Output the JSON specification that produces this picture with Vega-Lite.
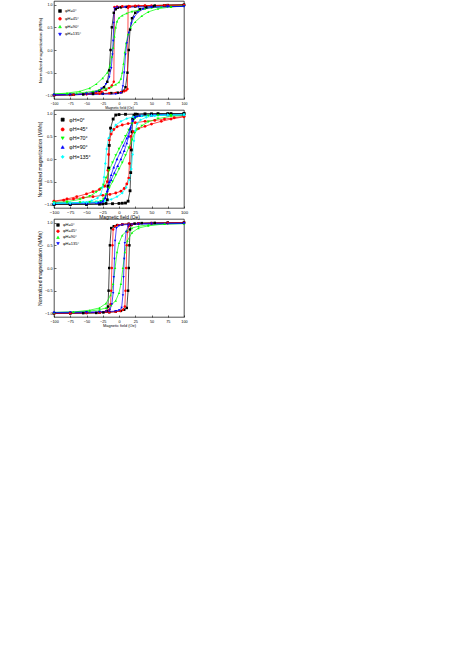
{
"$schema": "https://vega.github.io/schema/vega-lite/v6.json",
"padding": {"left": 36, "top": 0, "right": 5, "bottom": 5},
"config": {
  "font": "Liberation Sans",
  "view": {"stroke": "#000", "strokeWidth": 0.7},
  "axis": {"grid": false, "domain": false, "tickColor": "#000", "tickSize": -2, "tickWidth": 0.6, "labelColor": "#000", "titleColor": "#000", "titleFontWeight": "normal", "labelPadding": 4, "labelFlush": false, "labelOverlap": false},
  "legend": {"orient": "none", "labelColor": "#000", "padding": 0, "symbolSize": 8, "symbolStrokeWidth": 0.6, "labelLimit": 100}
},
"datasets": {
"a": [
{"phi":"φH=0°","b":"d","H":100,"M":0.995},{"phi":"φH=0°","b":"d","H":75,"M":0.99},{"phi":"φH=0°","b":"d","H":55,"M":0.98},{"phi":"φH=0°","b":"d","H":40,"M":0.97},{"phi":"φH=0°","b":"d","H":25,"M":0.96},{"phi":"φH=0°","b":"d","H":12,"M":0.95},{"phi":"φH=0°","b":"d","H":3,"M":0.94},{"phi":"φH=0°","b":"d","H":-2,"M":0.93},{"phi":"φH=0°","b":"d","H":-5,"M":0.9},{"phi":"φH=0°","b":"d","H":-8,"M":0.82},{"phi":"φH=0°","b":"d","H":-11,"M":0.5},{"phi":"φH=0°","b":"d","H":-13,"M":0.0},{"phi":"φH=0°","b":"d","H":-15,"M":-0.45},{"phi":"φH=0°","b":"d","H":-18,"M":-0.7},{"phi":"φH=0°","b":"d","H":-23,"M":-0.82},{"phi":"φH=0°","b":"d","H":-30,"M":-0.9},{"phi":"φH=0°","b":"d","H":-40,"M":-0.94},{"phi":"φH=0°","b":"d","H":-50,"M":-0.965},{"phi":"φH=0°","b":"d","H":-70,"M":-0.985},{"phi":"φH=0°","b":"d","H":-100,"M":-0.995},
{"phi":"φH=0°","b":"u","H":-100,"M":-0.995},{"phi":"φH=0°","b":"u","H":-75,"M":-0.99},{"phi":"φH=0°","b":"u","H":-55,"M":-0.98},{"phi":"φH=0°","b":"u","H":-40,"M":-0.97},{"phi":"φH=0°","b":"u","H":-25,"M":-0.96},{"phi":"φH=0°","b":"u","H":-12,"M":-0.95},{"phi":"φH=0°","b":"u","H":-2,"M":-0.94},{"phi":"φH=0°","b":"u","H":4,"M":-0.93},{"phi":"φH=0°","b":"u","H":7,"M":-0.9},{"phi":"φH=0°","b":"u","H":10,"M":-0.82},{"phi":"φH=0°","b":"u","H":13,"M":-0.5},{"phi":"φH=0°","b":"u","H":15,"M":0.0},{"phi":"φH=0°","b":"u","H":17,"M":0.45},{"phi":"φH=0°","b":"u","H":20,"M":0.7},{"phi":"φH=0°","b":"u","H":25,"M":0.82},{"phi":"φH=0°","b":"u","H":32,"M":0.9},{"phi":"φH=0°","b":"u","H":42,"M":0.94},{"phi":"φH=0°","b":"u","H":52,"M":0.965},{"phi":"φH=0°","b":"u","H":70,"M":0.985},{"phi":"φH=0°","b":"u","H":100,"M":0.995},
{"phi":"φH=45°","b":"d","H":100,"M":0.985},{"phi":"φH=45°","b":"d","H":75,"M":0.985},{"phi":"φH=45°","b":"d","H":50,"M":0.98},{"phi":"φH=45°","b":"d","H":30,"M":0.975},{"phi":"φH=45°","b":"d","H":15,"M":0.97},{"phi":"φH=45°","b":"d","H":5,"M":0.965},{"phi":"φH=45°","b":"d","H":-3,"M":0.96},{"phi":"φH=45°","b":"d","H":-7,"M":0.95},{"phi":"φH=45°","b":"d","H":-8,"M":-0.7},{"phi":"φH=45°","b":"d","H":-11,"M":-0.78},{"phi":"φH=45°","b":"d","H":-15,"M":-0.84},{"phi":"φH=45°","b":"d","H":-20,"M":-0.88},{"phi":"φH=45°","b":"d","H":-27,"M":-0.92},{"phi":"φH=45°","b":"d","H":-35,"M":-0.95},{"phi":"φH=45°","b":"d","H":-50,"M":-0.97},{"phi":"φH=45°","b":"d","H":-70,"M":-0.985},{"phi":"φH=45°","b":"d","H":-100,"M":-0.99},
{"phi":"φH=45°","b":"u","H":-100,"M":-0.99},{"phi":"φH=45°","b":"u","H":-75,"M":-0.985},{"phi":"φH=45°","b":"u","H":-50,"M":-0.975},{"phi":"φH=45°","b":"u","H":-30,"M":-0.965},{"phi":"φH=45°","b":"u","H":-15,"M":-0.955},{"phi":"φH=45°","b":"u","H":-5,"M":-0.945},{"phi":"φH=45°","b":"u","H":3,"M":-0.93},{"phi":"φH=45°","b":"u","H":8,"M":-0.91},{"phi":"φH=45°","b":"u","H":11,"M":-0.89},{"phi":"φH=45°","b":"u","H":13,"M":-0.86},{"phi":"φH=45°","b":"u","H":14,"M":0.93},{"phi":"φH=45°","b":"u","H":17,"M":0.96},{"phi":"φH=45°","b":"u","H":25,"M":0.975},{"phi":"φH=45°","b":"u","H":40,"M":0.98},{"phi":"φH=45°","b":"u","H":70,"M":0.985},{"phi":"φH=45°","b":"u","H":100,"M":0.99},
{"phi":"φH=90°","b":"d","H":100,"M":0.97},{"phi":"φH=90°","b":"d","H":80,"M":0.96},{"phi":"φH=90°","b":"d","H":65,"M":0.95},{"phi":"φH=90°","b":"d","H":50,"M":0.93},{"phi":"φH=90°","b":"d","H":40,"M":0.91},{"phi":"φH=90°","b":"d","H":30,"M":0.88},{"phi":"φH=90°","b":"d","H":20,"M":0.85},{"phi":"φH=90°","b":"d","H":12,"M":0.81},{"phi":"φH=90°","b":"d","H":5,"M":0.76},{"phi":"φH=90°","b":"d","H":0,"M":0.71},{"phi":"φH=90°","b":"d","H":-3,"M":0.63},{"phi":"φH=90°","b":"d","H":-5,"M":0.5},{"phi":"φH=90°","b":"d","H":-7,"M":0.3},{"phi":"φH=90°","b":"d","H":-9,"M":0.05},{"phi":"φH=90°","b":"d","H":-11,"M":-0.15},{"phi":"φH=90°","b":"d","H":-14,"M":-0.35},{"phi":"φH=90°","b":"d","H":-18,"M":-0.5},{"phi":"φH=90°","b":"d","H":-25,"M":-0.62},{"phi":"φH=90°","b":"d","H":-35,"M":-0.75},{"phi":"φH=90°","b":"d","H":-45,"M":-0.84},{"phi":"φH=90°","b":"d","H":-60,"M":-0.91},{"phi":"φH=90°","b":"d","H":-80,"M":-0.95},{"phi":"φH=90°","b":"d","H":-100,"M":-0.97},
{"phi":"φH=90°","b":"u","H":-100,"M":-0.97},{"phi":"φH=90°","b":"u","H":-80,"M":-0.96},{"phi":"φH=90°","b":"u","H":-65,"M":-0.95},{"phi":"φH=90°","b":"u","H":-50,"M":-0.93},{"phi":"φH=90°","b":"u","H":-40,"M":-0.91},{"phi":"φH=90°","b":"u","H":-30,"M":-0.88},{"phi":"φH=90°","b":"u","H":-20,"M":-0.85},{"phi":"φH=90°","b":"u","H":-12,"M":-0.81},{"phi":"φH=90°","b":"u","H":-5,"M":-0.76},{"phi":"φH=90°","b":"u","H":0,"M":-0.71},{"phi":"φH=90°","b":"u","H":3,"M":-0.63},{"phi":"φH=90°","b":"u","H":5,"M":-0.5},{"phi":"φH=90°","b":"u","H":7,"M":-0.3},{"phi":"φH=90°","b":"u","H":9,"M":-0.05},{"phi":"φH=90°","b":"u","H":11,"M":0.15},{"phi":"φH=90°","b":"u","H":14,"M":0.35},{"phi":"φH=90°","b":"u","H":18,"M":0.5},{"phi":"φH=90°","b":"u","H":25,"M":0.62},{"phi":"φH=90°","b":"u","H":35,"M":0.75},{"phi":"φH=90°","b":"u","H":45,"M":0.84},{"phi":"φH=90°","b":"u","H":60,"M":0.91},{"phi":"φH=90°","b":"u","H":80,"M":0.95},{"phi":"φH=90°","b":"u","H":100,"M":0.97},
{"phi":"φH=135°","b":"d","H":100,"M":0.96},{"phi":"φH=135°","b":"d","H":75,"M":0.955},{"phi":"φH=135°","b":"d","H":50,"M":0.95},{"phi":"φH=135°","b":"d","H":30,"M":0.95},{"phi":"φH=135°","b":"d","H":10,"M":0.945},{"phi":"φH=135°","b":"d","H":-3,"M":0.94},{"phi":"φH=135°","b":"d","H":-7,"M":0.92},{"phi":"φH=135°","b":"d","H":-8,"M":0.6},{"phi":"φH=135°","b":"d","H":-9,"M":0.2},{"phi":"φH=135°","b":"d","H":-10,"M":-0.1},{"phi":"φH=135°","b":"d","H":-12,"M":-0.4},{"phi":"φH=135°","b":"d","H":-15,"M":-0.6},{"phi":"φH=135°","b":"d","H":-20,"M":-0.75},{"phi":"φH=135°","b":"d","H":-27,"M":-0.85},{"phi":"φH=135°","b":"d","H":-35,"M":-0.92},{"phi":"φH=135°","b":"d","H":-50,"M":-0.96},{"phi":"φH=135°","b":"d","H":-75,"M":-0.98},{"phi":"φH=135°","b":"d","H":-100,"M":-0.99},
{"phi":"φH=135°","b":"u","H":-100,"M":-0.99},{"phi":"φH=135°","b":"u","H":-75,"M":-0.985},{"phi":"φH=135°","b":"u","H":-50,"M":-0.98},{"phi":"φH=135°","b":"u","H":-25,"M":-0.975},{"phi":"φH=135°","b":"u","H":-5,"M":-0.97},{"phi":"φH=135°","b":"u","H":3,"M":-0.95},{"phi":"φH=135°","b":"u","H":6,"M":-0.8},{"phi":"φH=135°","b":"u","H":8,"M":-0.5},{"phi":"φH=135°","b":"u","H":10,"M":-0.1},{"phi":"φH=135°","b":"u","H":12,"M":0.15},{"phi":"φH=135°","b":"u","H":15,"M":0.38},{"phi":"φH=135°","b":"u","H":19,"M":0.58},{"phi":"φH=135°","b":"u","H":23,"M":0.72},{"phi":"φH=135°","b":"u","H":29,"M":0.83},{"phi":"φH=135°","b":"u","H":37,"M":0.9},{"phi":"φH=135°","b":"u","H":50,"M":0.94},{"phi":"φH=135°","b":"u","H":75,"M":0.955},{"phi":"φH=135°","b":"u","H":100,"M":0.96}
],
"b": [
{"phi":"φH=0°","b":"d","H":100,"M":1.0},{"phi":"φH=0°","b":"d","H":75,"M":1.0},{"phi":"φH=0°","b":"d","H":50,"M":0.995},{"phi":"φH=0°","b":"d","H":25,"M":0.99},{"phi":"φH=0°","b":"d","H":10,"M":0.985},{"phi":"φH=0°","b":"d","H":0,"M":0.98},{"phi":"φH=0°","b":"d","H":-5,"M":0.97},{"phi":"φH=0°","b":"d","H":-9,"M":0.88},{"phi":"φH=0°","b":"d","H":-13,"M":0.68},{"phi":"φH=0°","b":"d","H":-15,"M":0.3},{"phi":"φH=0°","b":"d","H":-16,"M":-0.2},{"phi":"φH=0°","b":"d","H":-17,"M":-0.6},{"phi":"φH=0°","b":"d","H":-18,"M":-0.9},{"phi":"φH=0°","b":"d","H":-20,"M":-0.98},{"phi":"φH=0°","b":"d","H":-30,"M":-0.995},{"phi":"φH=0°","b":"d","H":-50,"M":-1.0},{"phi":"φH=0°","b":"d","H":-75,"M":-1.0},{"phi":"φH=0°","b":"d","H":-100,"M":-1.0},
{"phi":"φH=0°","b":"u","H":-100,"M":-1.0},{"phi":"φH=0°","b":"u","H":-75,"M":-1.0},{"phi":"φH=0°","b":"u","H":-50,"M":-0.995},{"phi":"φH=0°","b":"u","H":-25,"M":-0.99},{"phi":"φH=0°","b":"u","H":-10,"M":-0.985},{"phi":"φH=0°","b":"u","H":0,"M":-0.98},{"phi":"φH=0°","b":"u","H":5,"M":-0.975},{"phi":"φH=0°","b":"u","H":10,"M":-0.97},{"phi":"φH=0°","b":"u","H":14,"M":-0.93},{"phi":"φH=0°","b":"u","H":17,"M":-0.7},{"phi":"φH=0°","b":"u","H":18,"M":-0.3},{"phi":"φH=0°","b":"u","H":19,"M":0.2},{"phi":"φH=0°","b":"u","H":20,"M":0.6},{"phi":"φH=0°","b":"u","H":21,"M":0.88},{"phi":"φH=0°","b":"u","H":23,"M":0.96},{"phi":"φH=0°","b":"u","H":28,"M":0.985},{"phi":"φH=0°","b":"u","H":40,"M":0.995},{"phi":"φH=0°","b":"u","H":60,"M":1.0},{"phi":"φH=0°","b":"u","H":80,"M":1.0},{"phi":"φH=0°","b":"u","H":100,"M":1.0},
{"phi":"φH=45°","b":"d","H":100,"M":0.94},{"phi":"φH=45°","b":"d","H":85,"M":0.91},{"phi":"φH=45°","b":"d","H":70,"M":0.88},{"phi":"φH=45°","b":"d","H":55,"M":0.85},{"phi":"φH=45°","b":"d","H":40,"M":0.83},{"phi":"φH=45°","b":"d","H":25,"M":0.8},{"phi":"φH=45°","b":"d","H":14,"M":0.78},{"phi":"φH=45°","b":"d","H":5,"M":0.75},{"phi":"φH=45°","b":"d","H":-3,"M":0.71},{"phi":"φH=45°","b":"d","H":-8,"M":0.65},{"phi":"φH=45°","b":"d","H":-12,"M":0.55},{"phi":"φH=45°","b":"d","H":-15,"M":0.42},{"phi":"φH=45°","b":"d","H":-16,"M":0.1},{"phi":"φH=45°","b":"d","H":-17,"M":-0.25},{"phi":"φH=45°","b":"d","H":-18,"M":-0.5},{"phi":"φH=45°","b":"d","H":-22,"M":-0.6},{"phi":"φH=45°","b":"d","H":-30,"M":-0.67},{"phi":"φH=45°","b":"d","H":-40,"M":-0.72},{"phi":"φH=45°","b":"d","H":-50,"M":-0.77},{"phi":"φH=45°","b":"d","H":-65,"M":-0.83},{"phi":"φH=45°","b":"d","H":-80,"M":-0.88},{"phi":"φH=45°","b":"d","H":-100,"M":-0.93},
{"phi":"φH=45°","b":"u","H":-100,"M":-0.94},{"phi":"φH=45°","b":"u","H":-85,"M":-0.91},{"phi":"φH=45°","b":"u","H":-70,"M":-0.88},{"phi":"φH=45°","b":"u","H":-55,"M":-0.85},{"phi":"φH=45°","b":"u","H":-40,"M":-0.83},{"phi":"φH=45°","b":"u","H":-25,"M":-0.8},{"phi":"φH=45°","b":"u","H":-14,"M":-0.78},{"phi":"φH=45°","b":"u","H":-5,"M":-0.75},{"phi":"φH=45°","b":"u","H":3,"M":-0.71},{"phi":"φH=45°","b":"u","H":8,"M":-0.65},{"phi":"φH=45°","b":"u","H":12,"M":-0.55},{"phi":"φH=45°","b":"u","H":15,"M":-0.42},{"phi":"φH=45°","b":"u","H":16,"M":-0.1},{"phi":"φH=45°","b":"u","H":17,"M":0.25},{"phi":"φH=45°","b":"u","H":18,"M":0.5},{"phi":"φH=45°","b":"u","H":22,"M":0.6},{"phi":"φH=45°","b":"u","H":30,"M":0.67},{"phi":"φH=45°","b":"u","H":40,"M":0.72},{"phi":"φH=45°","b":"u","H":50,"M":0.77},{"phi":"φH=45°","b":"u","H":65,"M":0.83},{"phi":"φH=45°","b":"u","H":80,"M":0.88},{"phi":"φH=45°","b":"u","H":100,"M":0.93},
{"phi":"φH=70°","b":"d","H":100,"M":0.97},{"phi":"φH=70°","b":"d","H":80,"M":0.965},{"phi":"φH=70°","b":"d","H":60,"M":0.96},{"phi":"φH=70°","b":"d","H":45,"M":0.955},{"phi":"φH=70°","b":"d","H":35,"M":0.945},{"phi":"φH=70°","b":"d","H":28,"M":0.93},{"phi":"φH=70°","b":"d","H":24,"M":0.88},{"phi":"φH=70°","b":"d","H":20,"M":0.78},{"phi":"φH=70°","b":"d","H":15,"M":0.64},{"phi":"φH=70°","b":"d","H":10,"M":0.5},{"phi":"φH=70°","b":"d","H":5,"M":0.36},{"phi":"φH=70°","b":"d","H":0,"M":0.22},{"phi":"φH=70°","b":"d","H":-5,"M":0.08},{"phi":"φH=70°","b":"d","H":-10,"M":-0.08},{"phi":"φH=70°","b":"d","H":-15,"M":-0.25},{"phi":"φH=70°","b":"d","H":-20,"M":-0.42},{"phi":"φH=70°","b":"d","H":-24,"M":-0.57},{"phi":"φH=70°","b":"d","H":-28,"M":-0.65},{"phi":"φH=70°","b":"d","H":-35,"M":-0.73},{"phi":"φH=70°","b":"d","H":-45,"M":-0.82},{"phi":"φH=70°","b":"d","H":-60,"M":-0.89},{"phi":"φH=70°","b":"d","H":-80,"M":-0.94},{"phi":"φH=70°","b":"d","H":-100,"M":-0.96},
{"phi":"φH=70°","b":"u","H":-100,"M":-0.97},{"phi":"φH=70°","b":"u","H":-80,"M":-0.965},{"phi":"φH=70°","b":"u","H":-60,"M":-0.96},{"phi":"φH=70°","b":"u","H":-45,"M":-0.955},{"phi":"φH=70°","b":"u","H":-35,"M":-0.945},{"phi":"φH=70°","b":"u","H":-28,"M":-0.93},{"phi":"φH=70°","b":"u","H":-24,"M":-0.88},{"phi":"φH=70°","b":"u","H":-20,"M":-0.78},{"phi":"φH=70°","b":"u","H":-15,"M":-0.64},{"phi":"φH=70°","b":"u","H":-10,"M":-0.5},{"phi":"φH=70°","b":"u","H":-5,"M":-0.36},{"phi":"φH=70°","b":"u","H":0,"M":-0.22},{"phi":"φH=70°","b":"u","H":5,"M":-0.08},{"phi":"φH=70°","b":"u","H":10,"M":0.08},{"phi":"φH=70°","b":"u","H":15,"M":0.25},{"phi":"φH=70°","b":"u","H":20,"M":0.42},{"phi":"φH=70°","b":"u","H":24,"M":0.57},{"phi":"φH=70°","b":"u","H":28,"M":0.65},{"phi":"φH=70°","b":"u","H":35,"M":0.73},{"phi":"φH=70°","b":"u","H":45,"M":0.82},{"phi":"φH=70°","b":"u","H":60,"M":0.89},{"phi":"φH=70°","b":"u","H":80,"M":0.94},{"phi":"φH=70°","b":"u","H":100,"M":0.96},
{"phi":"φH=90°","b":"d","H":100,"M":0.975},{"phi":"φH=90°","b":"d","H":75,"M":0.97},{"phi":"φH=90°","b":"d","H":50,"M":0.965},{"phi":"φH=90°","b":"d","H":35,"M":0.96},{"phi":"φH=90°","b":"d","H":28,"M":0.95},{"phi":"φH=90°","b":"d","H":24,"M":0.92},{"phi":"φH=90°","b":"d","H":21,"M":0.85},{"phi":"φH=90°","b":"d","H":17,"M":0.66},{"phi":"φH=90°","b":"d","H":12,"M":0.46},{"phi":"φH=90°","b":"d","H":7,"M":0.3},{"phi":"φH=90°","b":"d","H":2,"M":0.15},{"phi":"φH=90°","b":"d","H":-3,"M":0.0},{"phi":"φH=90°","b":"d","H":-8,"M":-0.18},{"phi":"φH=90°","b":"d","H":-12,"M":-0.35},{"phi":"φH=90°","b":"d","H":-15,"M":-0.5},{"phi":"φH=90°","b":"d","H":-18,"M":-0.7},{"phi":"φH=90°","b":"d","H":-21,"M":-0.86},{"phi":"φH=90°","b":"d","H":-25,"M":-0.93},{"phi":"φH=90°","b":"d","H":-32,"M":-0.96},{"phi":"φH=90°","b":"d","H":-50,"M":-0.975},{"phi":"φH=90°","b":"d","H":-75,"M":-0.98},{"phi":"φH=90°","b":"d","H":-100,"M":-0.985},
{"phi":"φH=90°","b":"u","H":-100,"M":-0.975},{"phi":"φH=90°","b":"u","H":-75,"M":-0.97},{"phi":"φH=90°","b":"u","H":-50,"M":-0.965},{"phi":"φH=90°","b":"u","H":-35,"M":-0.96},{"phi":"φH=90°","b":"u","H":-28,"M":-0.95},{"phi":"φH=90°","b":"u","H":-24,"M":-0.92},{"phi":"φH=90°","b":"u","H":-21,"M":-0.85},{"phi":"φH=90°","b":"u","H":-17,"M":-0.66},{"phi":"φH=90°","b":"u","H":-12,"M":-0.46},{"phi":"φH=90°","b":"u","H":-7,"M":-0.3},{"phi":"φH=90°","b":"u","H":-2,"M":-0.15},{"phi":"φH=90°","b":"u","H":3,"M":0.0},{"phi":"φH=90°","b":"u","H":8,"M":0.18},{"phi":"φH=90°","b":"u","H":12,"M":0.35},{"phi":"φH=90°","b":"u","H":15,"M":0.5},{"phi":"φH=90°","b":"u","H":18,"M":0.7},{"phi":"φH=90°","b":"u","H":21,"M":0.86},{"phi":"φH=90°","b":"u","H":25,"M":0.93},{"phi":"φH=90°","b":"u","H":32,"M":0.96},{"phi":"φH=90°","b":"u","H":50,"M":0.975},{"phi":"φH=90°","b":"u","H":75,"M":0.98},{"phi":"φH=90°","b":"u","H":100,"M":0.985},
{"phi":"φH=135°","b":"d","H":100,"M":0.975},{"phi":"φH=135°","b":"d","H":75,"M":0.97},{"phi":"φH=135°","b":"d","H":50,"M":0.96},{"phi":"φH=135°","b":"d","H":35,"M":0.95},{"phi":"φH=135°","b":"d","H":22,"M":0.93},{"phi":"φH=135°","b":"d","H":12,"M":0.89},{"phi":"φH=135°","b":"d","H":3,"M":0.83},{"phi":"φH=135°","b":"d","H":-5,"M":0.75},{"phi":"φH=135°","b":"d","H":-11,"M":0.63},{"phi":"φH=135°","b":"d","H":-16,"M":0.46},{"phi":"φH=135°","b":"d","H":-19,"M":0.22},{"phi":"φH=135°","b":"d","H":-21,"M":-0.1},{"phi":"φH=135°","b":"d","H":-23,"M":-0.4},{"phi":"φH=135°","b":"d","H":-25,"M":-0.62},{"phi":"φH=135°","b":"d","H":-28,"M":-0.78},{"phi":"φH=135°","b":"d","H":-33,"M":-0.86},{"phi":"φH=135°","b":"d","H":-42,"M":-0.92},{"phi":"φH=135°","b":"d","H":-55,"M":-0.95},{"phi":"φH=135°","b":"d","H":-75,"M":-0.97},{"phi":"φH=135°","b":"d","H":-100,"M":-0.98},
{"phi":"φH=135°","b":"u","H":-100,"M":-0.975},{"phi":"φH=135°","b":"u","H":-75,"M":-0.97},{"phi":"φH=135°","b":"u","H":-50,"M":-0.96},{"phi":"φH=135°","b":"u","H":-35,"M":-0.95},{"phi":"φH=135°","b":"u","H":-22,"M":-0.93},{"phi":"φH=135°","b":"u","H":-12,"M":-0.89},{"phi":"φH=135°","b":"u","H":-3,"M":-0.83},{"phi":"φH=135°","b":"u","H":5,"M":-0.75},{"phi":"φH=135°","b":"u","H":11,"M":-0.63},{"phi":"φH=135°","b":"u","H":16,"M":-0.46},{"phi":"φH=135°","b":"u","H":19,"M":-0.22},{"phi":"φH=135°","b":"u","H":21,"M":0.1},{"phi":"φH=135°","b":"u","H":23,"M":0.4},{"phi":"φH=135°","b":"u","H":25,"M":0.62},{"phi":"φH=135°","b":"u","H":28,"M":0.78},{"phi":"φH=135°","b":"u","H":33,"M":0.86},{"phi":"φH=135°","b":"u","H":42,"M":0.92},{"phi":"φH=135°","b":"u","H":55,"M":0.95},{"phi":"φH=135°","b":"u","H":75,"M":0.97},{"phi":"φH=135°","b":"u","H":100,"M":0.98}
],
"c": [
{"phi":"φH=0°","b":"d","H":100,"M":1.0},{"phi":"φH=0°","b":"d","H":75,"M":0.995},{"phi":"φH=0°","b":"d","H":50,"M":0.99},{"phi":"φH=0°","b":"d","H":30,"M":0.985},{"phi":"φH=0°","b":"d","H":15,"M":0.975},{"phi":"φH=0°","b":"d","H":5,"M":0.96},{"phi":"φH=0°","b":"d","H":-3,"M":0.945},{"phi":"φH=0°","b":"d","H":-8,"M":0.92},{"phi":"φH=0°","b":"d","H":-12,"M":0.88},{"phi":"φH=0°","b":"d","H":-14,"M":0.5},{"phi":"φH=0°","b":"d","H":-15,"M":0.0},{"phi":"φH=0°","b":"d","H":-16,"M":-0.5},{"phi":"φH=0°","b":"d","H":-17,"M":-0.85},{"phi":"φH=0°","b":"d","H":-19,"M":-0.95},{"phi":"φH=0°","b":"d","H":-24,"M":-0.98},{"phi":"φH=0°","b":"d","H":-35,"M":-0.99},{"phi":"φH=0°","b":"d","H":-55,"M":-0.995},{"phi":"φH=0°","b":"d","H":-75,"M":-1.0},{"phi":"φH=0°","b":"d","H":-100,"M":-1.0},
{"phi":"φH=0°","b":"u","H":-100,"M":-1.0},{"phi":"φH=0°","b":"u","H":-75,"M":-0.995},{"phi":"φH=0°","b":"u","H":-50,"M":-0.99},{"phi":"φH=0°","b":"u","H":-30,"M":-0.985},{"phi":"φH=0°","b":"u","H":-15,"M":-0.975},{"phi":"φH=0°","b":"u","H":-5,"M":-0.96},{"phi":"φH=0°","b":"u","H":3,"M":-0.945},{"phi":"φH=0°","b":"u","H":8,"M":-0.92},{"phi":"φH=0°","b":"u","H":12,"M":-0.88},{"phi":"φH=0°","b":"u","H":14,"M":-0.5},{"phi":"φH=0°","b":"u","H":15,"M":0.0},{"phi":"φH=0°","b":"u","H":16,"M":0.5},{"phi":"φH=0°","b":"u","H":17,"M":0.85},{"phi":"φH=0°","b":"u","H":19,"M":0.95},{"phi":"φH=0°","b":"u","H":24,"M":0.98},{"phi":"φH=0°","b":"u","H":35,"M":0.99},{"phi":"φH=0°","b":"u","H":55,"M":0.995},{"phi":"φH=0°","b":"u","H":75,"M":1.0},{"phi":"φH=0°","b":"u","H":100,"M":1.0},
{"phi":"φH=45°","b":"d","H":100,"M":0.995},{"phi":"φH=45°","b":"d","H":75,"M":0.99},{"phi":"φH=45°","b":"d","H":50,"M":0.985},{"phi":"φH=45°","b":"d","H":30,"M":0.98},{"phi":"φH=45°","b":"d","H":15,"M":0.975},{"phi":"φH=45°","b":"d","H":5,"M":0.965},{"phi":"φH=45°","b":"d","H":-2,"M":0.95},{"phi":"φH=45°","b":"d","H":-6,"M":0.92},{"phi":"φH=45°","b":"d","H":-9,"M":0.85},{"phi":"φH=45°","b":"d","H":-10,"M":0.5},{"phi":"φH=45°","b":"d","H":-11,"M":0.0},{"phi":"φH=45°","b":"d","H":-12,"M":-0.5},{"phi":"φH=45°","b":"d","H":-13,"M":-0.8},{"phi":"φH=45°","b":"d","H":-15,"M":-0.92},{"phi":"φH=45°","b":"d","H":-20,"M":-0.96},{"phi":"φH=45°","b":"d","H":-30,"M":-0.98},{"phi":"φH=45°","b":"d","H":-50,"M":-0.99},{"phi":"φH=45°","b":"d","H":-75,"M":-0.995},{"phi":"φH=45°","b":"d","H":-100,"M":-1.0},
{"phi":"φH=45°","b":"u","H":-100,"M":-0.995},{"phi":"φH=45°","b":"u","H":-75,"M":-0.99},{"phi":"φH=45°","b":"u","H":-50,"M":-0.985},{"phi":"φH=45°","b":"u","H":-30,"M":-0.98},{"phi":"φH=45°","b":"u","H":-15,"M":-0.975},{"phi":"φH=45°","b":"u","H":-5,"M":-0.965},{"phi":"φH=45°","b":"u","H":2,"M":-0.95},{"phi":"φH=45°","b":"u","H":6,"M":-0.92},{"phi":"φH=45°","b":"u","H":9,"M":-0.85},{"phi":"φH=45°","b":"u","H":10,"M":-0.5},{"phi":"φH=45°","b":"u","H":11,"M":0.0},{"phi":"φH=45°","b":"u","H":12,"M":0.5},{"phi":"φH=45°","b":"u","H":13,"M":0.8},{"phi":"φH=45°","b":"u","H":15,"M":0.92},{"phi":"φH=45°","b":"u","H":20,"M":0.96},{"phi":"φH=45°","b":"u","H":30,"M":0.98},{"phi":"φH=45°","b":"u","H":50,"M":0.99},{"phi":"φH=45°","b":"u","H":75,"M":0.995},{"phi":"φH=45°","b":"u","H":100,"M":1.0},
{"phi":"φH=90°","b":"d","H":100,"M":0.98},{"phi":"φH=90°","b":"d","H":70,"M":0.97},{"phi":"φH=90°","b":"d","H":45,"M":0.95},{"phi":"φH=90°","b":"d","H":30,"M":0.92},{"phi":"φH=90°","b":"d","H":20,"M":0.88},{"phi":"φH=90°","b":"d","H":12,"M":0.82},{"phi":"φH=90°","b":"d","H":5,"M":0.72},{"phi":"φH=90°","b":"d","H":0,"M":0.55},{"phi":"φH=90°","b":"d","H":-3,"M":0.35},{"phi":"φH=90°","b":"d","H":-6,"M":0.0},{"phi":"φH=90°","b":"d","H":-9,"M":-0.35},{"phi":"φH=90°","b":"d","H":-13,"M":-0.6},{"phi":"φH=90°","b":"d","H":-20,"M":-0.78},{"phi":"φH=90°","b":"d","H":-30,"M":-0.88},{"phi":"φH=90°","b":"d","H":-45,"M":-0.93},{"phi":"φH=90°","b":"d","H":-70,"M":-0.97},{"phi":"φH=90°","b":"d","H":-100,"M":-0.98},
{"phi":"φH=90°","b":"u","H":-100,"M":-0.98},{"phi":"φH=90°","b":"u","H":-70,"M":-0.97},{"phi":"φH=90°","b":"u","H":-45,"M":-0.95},{"phi":"φH=90°","b":"u","H":-30,"M":-0.92},{"phi":"φH=90°","b":"u","H":-20,"M":-0.88},{"phi":"φH=90°","b":"u","H":-12,"M":-0.82},{"phi":"φH=90°","b":"u","H":-5,"M":-0.72},{"phi":"φH=90°","b":"u","H":0,"M":-0.55},{"phi":"φH=90°","b":"u","H":3,"M":-0.35},{"phi":"φH=90°","b":"u","H":6,"M":0.0},{"phi":"φH=90°","b":"u","H":9,"M":0.35},{"phi":"φH=90°","b":"u","H":13,"M":0.6},{"phi":"φH=90°","b":"u","H":20,"M":0.78},{"phi":"φH=90°","b":"u","H":30,"M":0.88},{"phi":"φH=90°","b":"u","H":45,"M":0.93},{"phi":"φH=90°","b":"u","H":70,"M":0.97},{"phi":"φH=90°","b":"u","H":100,"M":0.98},
{"phi":"φH=135°","b":"d","H":100,"M":0.98},{"phi":"φH=135°","b":"d","H":75,"M":0.975},{"phi":"φH=135°","b":"d","H":50,"M":0.97},{"phi":"φH=135°","b":"d","H":30,"M":0.965},{"phi":"φH=135°","b":"d","H":15,"M":0.96},{"phi":"φH=135°","b":"d","H":5,"M":0.95},{"phi":"φH=135°","b":"d","H":0,"M":0.93},{"phi":"φH=135°","b":"d","H":-4,"M":0.88},{"phi":"φH=135°","b":"d","H":-6,"M":0.6},{"phi":"φH=135°","b":"d","H":-7,"M":0.2},{"phi":"φH=135°","b":"d","H":-8,"M":-0.2},{"phi":"φH=135°","b":"d","H":-9,"M":-0.55},{"phi":"φH=135°","b":"d","H":-11,"M":-0.8},{"phi":"φH=135°","b":"d","H":-14,"M":-0.92},{"phi":"φH=135°","b":"d","H":-20,"M":-0.96},{"phi":"φH=135°","b":"d","H":-30,"M":-0.975},{"phi":"φH=135°","b":"d","H":-50,"M":-0.985},{"phi":"φH=135°","b":"d","H":-100,"M":-0.99},
{"phi":"φH=135°","b":"u","H":-100,"M":-0.98},{"phi":"φH=135°","b":"u","H":-75,"M":-0.975},{"phi":"φH=135°","b":"u","H":-50,"M":-0.97},{"phi":"φH=135°","b":"u","H":-30,"M":-0.965},{"phi":"φH=135°","b":"u","H":-15,"M":-0.96},{"phi":"φH=135°","b":"u","H":-5,"M":-0.95},{"phi":"φH=135°","b":"u","H":0,"M":-0.93},{"phi":"φH=135°","b":"u","H":4,"M":-0.88},{"phi":"φH=135°","b":"u","H":6,"M":-0.6},{"phi":"φH=135°","b":"u","H":7,"M":-0.2},{"phi":"φH=135°","b":"u","H":8,"M":0.2},{"phi":"φH=135°","b":"u","H":9,"M":0.55},{"phi":"φH=135°","b":"u","H":11,"M":0.8},{"phi":"φH=135°","b":"u","H":14,"M":0.92},{"phi":"φH=135°","b":"u","H":20,"M":0.96},{"phi":"φH=135°","b":"u","H":30,"M":0.975},{"phi":"φH=135°","b":"u","H":50,"M":0.985},{"phi":"φH=135°","b":"u","H":100,"M":0.99}
]
},
"vconcat": [
{
  "width": 130, "height": 98,
  "data": {"name": "a"},
  "encoding": {
    "x": {"field": "H", "type": "quantitative", "scale": {"domain": [-100, 100], "nice": false}, "axis": {"values": [-100,-75,-50,-25,0,25,50,75,100], "title": "Magnetic field (Oe)", "labelFontSize": 3.5, "titleFontSize": 3.4, "titlePadding": 0.5}},
    "y": {"field": "M", "type": "quantitative", "scale": {"domain": [-1.08, 1.08], "nice": false, "zero": false}, "axis": {"values": [-1,-0.5,0,0.5,1], "format": ".1f", "title": "Normalized magnetization (M/Ms)", "labelFontSize": 3.6, "titleFontSize": 4.4, "titlePadding": 2}}
  },
  "layer": [
    {"mark": {"type": "line", "strokeWidth": 0.7}, "encoding": {"detail": {"field": "b"}, "color": {"field": "phi", "type": "nominal", "scale": {"domain": ["φH=0°","φH=45°","φH=90°","φH=135°"], "range": ["#000000","#ff0000","#00ff00","#0000ff"]}, "legend": {"title": null, "legendX": 4, "legendY": 8, "labelFontSize": 4, "symbolSize": 8, "rowPadding": 1.8, "labelOffset": 3}}}},
    {"mark": {"type": "point", "filled": true, "size": 6, "opacity": 1}, "encoding": {
      "color": {"field": "phi", "type": "nominal", "scale": {"domain": ["φH=0°","φH=45°","φH=90°","φH=135°"], "range": ["#000000","#ff0000","#00ff00","#0000ff"]}, "legend": {"title": null, "legendX": 4, "legendY": 8, "labelFontSize": 4, "symbolSize": 8, "rowPadding": 1.8, "labelOffset": 3}},
      "shape": {"field": "phi", "type": "nominal", "scale": {"domain": ["φH=0°","φH=45°","φH=90°","φH=135°"], "range": ["square","circle","triangle-up","triangle-down"]}, "legend": {"title": null, "legendX": 4, "legendY": 8, "labelFontSize": 4, "symbolSize": 8, "rowPadding": 1.8, "labelOffset": 3}}
    }},
    {"data": {"values": [{}]}, "mark": {"type": "text", "fontSize": 5, "color": "#000"}, "encoding": {"x": {"datum": 68}, "y": {"datum": 0.5}, "text": {"value": "20 nm"}}},
    {"data": {"values": [{}]}, "mark": {"type": "text", "fontSize": 4.5, "color": "#000"}, "encoding": {"x": {"datum": 88}, "y": {"datum": -0.9}, "text": {"value": "(a)"}}}
  ]
},
{
  "width": 130, "height": 98,
  "data": {"name": "b"},
  "encoding": {
    "x": {"field": "H", "type": "quantitative", "scale": {"domain": [-100, 100], "nice": false}, "axis": {"values": [-100,-75,-50,-25,0,25,50,75,100], "title": "Magnetic field (Oe)", "labelFontSize": 4.3, "titleFontSize": 4.8, "titlePadding": 0}},
    "y": {"field": "M", "type": "quantitative", "scale": {"domain": [-1.08, 1.08], "nice": false, "zero": false}, "axis": {"values": [-1,-0.5,0,0.5,1], "format": ".1f", "title": "Normalized magnetization (M/Ms)", "labelFontSize": 4, "titleFontSize": 5.1, "titlePadding": 2}}
  },
  "layer": [
    {"mark": {"type": "line", "strokeWidth": 0.7}, "encoding": {"detail": {"field": "b"}, "color": {"field": "phi", "type": "nominal", "scale": {"domain": ["φH=0°","φH=45°","φH=70°","φH=90°","φH=135°"], "range": ["#000000","#ff0000","#00ff00","#0000ff","#00ffff"]}, "legend": {"title": null, "legendX": 6, "legendY": 7, "labelFontSize": 5.3, "symbolSize": 10, "rowPadding": 2.8, "labelOffset": 4}}}},
    {"mark": {"type": "point", "filled": true, "size": 8, "opacity": 1}, "encoding": {
      "color": {"field": "phi", "type": "nominal", "scale": {"domain": ["φH=0°","φH=45°","φH=70°","φH=90°","φH=135°"], "range": ["#000000","#ff0000","#00ff00","#0000ff","#00ffff"]}, "legend": {"title": null, "legendX": 6, "legendY": 7, "labelFontSize": 5.3, "symbolSize": 10, "rowPadding": 2.8, "labelOffset": 4}},
      "shape": {"field": "phi", "type": "nominal", "scale": {"domain": ["φH=0°","φH=45°","φH=70°","φH=90°","φH=135°"], "range": ["square","circle","triangle-down","triangle-up","diamond"]}, "legend": {"title": null, "legendX": 6, "legendY": 7, "labelFontSize": 5.3, "symbolSize": 10, "rowPadding": 2.8, "labelOffset": 4}}
    }},
    {"data": {"values": [{}]}, "mark": {"type": "text", "fontSize": 5, "color": "#000"}, "encoding": {"x": {"datum": 72}, "y": {"datum": 0.72}, "text": {"value": "50 nm"}}},
    {"data": {"values": [{}]}, "mark": {"type": "text", "fontSize": 4.5, "color": "#000"}, "encoding": {"x": {"datum": 86}, "y": {"datum": -0.9}, "text": {"value": "(b)"}}}
  ]
},
{
  "width": 130, "height": 98,
  "data": {"name": "c"},
  "encoding": {
    "x": {"field": "H", "type": "quantitative", "scale": {"domain": [-100, 100], "nice": false}, "axis": {"values": [-100,-75,-50,-25,0,25,50,75,100], "title": "Magnetic field (Oe)", "labelFontSize": 3.8, "titleFontSize": 3.9, "titlePadding": 0.5}},
    "y": {"field": "M", "type": "quantitative", "scale": {"domain": [-1.08, 1.08], "nice": false, "zero": false}, "axis": {"values": [-1,-0.5,0,0.5,1], "format": ".1f", "title": "Normalized magnetization (M/Ms)", "labelFontSize": 3.8, "titleFontSize": 5, "titlePadding": 2.5}}
  },
  "layer": [
    {"mark": {"type": "line", "strokeWidth": 0.7}, "encoding": {"detail": {"field": "b"}, "color": {"field": "phi", "type": "nominal", "scale": {"domain": ["φH=0°","φH=45°","φH=90°","φH=135°"], "range": ["#000000","#ff0000","#00ff00","#0000ff"]}, "legend": {"title": null, "legendX": 2, "legendY": 4, "labelFontSize": 4, "symbolSize": 7, "rowPadding": 0.2, "labelOffset": 3}}}},
    {"mark": {"type": "point", "filled": true, "size": 6, "opacity": 1}, "encoding": {
      "color": {"field": "phi", "type": "nominal", "scale": {"domain": ["φH=0°","φH=45°","φH=90°","φH=135°"], "range": ["#000000","#ff0000","#00ff00","#0000ff"]}, "legend": {"title": null, "legendX": 2, "legendY": 4, "labelFontSize": 4, "symbolSize": 7, "rowPadding": 0.2, "labelOffset": 3}},
      "shape": {"field": "phi", "type": "nominal", "scale": {"domain": ["φH=0°","φH=45°","φH=90°","φH=135°"], "range": ["square","circle","triangle-up","triangle-down"]}, "legend": {"title": null, "legendX": 2, "legendY": 4, "labelFontSize": 4, "symbolSize": 7, "rowPadding": 0.2, "labelOffset": 3}}
    }},
    {"data": {"values": [{}]}, "mark": {"type": "text", "fontSize": 5, "color": "#000"}, "encoding": {"x": {"datum": 80}, "y": {"datum": 0.67}, "text": {"value": "100 nm"}}},
    {"data": {"values": [{}]}, "mark": {"type": "text", "fontSize": 4.5, "color": "#000"}, "encoding": {"x": {"datum": 88}, "y": {"datum": -0.88}, "text": {"value": "(c)"}}}
  ]
}
],
"spacing": 11,
"bounds": "flush",
"resolve": {"scale": {"color": "independent", "shape": "independent", "x": "independent", "y": "independent"}, "legend": {"color": "independent", "shape": "independent"}}
}
